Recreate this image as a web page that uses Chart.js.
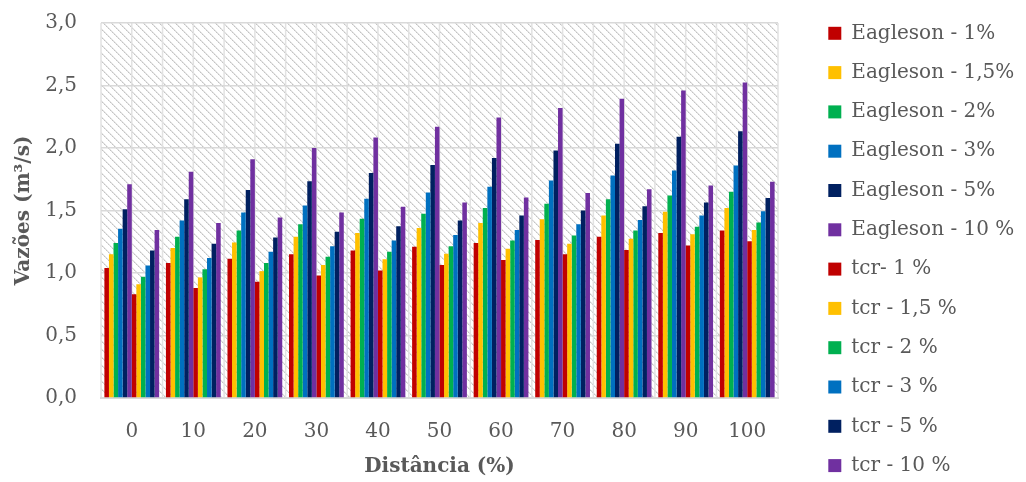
<!DOCTYPE html>
<html>
<head>
<meta charset="utf-8">
<script src="https://cdn.jsdelivr.net/npm/chart.js@4.4.1/dist/chart.umd.min.js"></script>
<style>
  body { margin: 0; background: #fff; }
  #wrap { width: 1026px; height: 482px; }
</style>
</head>
<body>
<div id="wrap"><canvas id="vazoesChart" width="1026" height="482"></canvas></div>
<script>
const distancias = ["0", "10", "20", "30", "40", "50", "60", "70", "80", "90", "100"];

const eagleson1 = [1.04, 1.08, 1.115, 1.15, 1.18, 1.21, 1.24, 1.265, 1.29, 1.32, 1.34];
const eagleson15 = [1.15, 1.20, 1.245, 1.29, 1.32, 1.36, 1.40, 1.43, 1.46, 1.49, 1.52];
const eagleson2 = [1.24, 1.29, 1.34, 1.39, 1.435, 1.475, 1.52, 1.555, 1.59, 1.62, 1.65];
const eagleson3 = [1.355, 1.42, 1.485, 1.54, 1.595, 1.645, 1.69, 1.74, 1.78, 1.82, 1.86];
const eagleson5 = [1.51, 1.59, 1.665, 1.735, 1.80, 1.865, 1.92, 1.98, 2.035, 2.09, 2.135];
const eagleson10 = [1.71, 1.81, 1.91, 2.00, 2.085, 2.17, 2.245, 2.32, 2.395, 2.46, 2.525];

const tcr1 = [0.83, 0.88, 0.93, 0.98, 1.02, 1.065, 1.105, 1.15, 1.185, 1.22, 1.255];
const tcr15 = [0.91, 0.965, 1.015, 1.065, 1.11, 1.155, 1.195, 1.235, 1.275, 1.31, 1.345];
const tcr2 = [0.97, 1.03, 1.08, 1.13, 1.17, 1.215, 1.26, 1.30, 1.34, 1.37, 1.405];
const tcr3 = [1.06, 1.12, 1.17, 1.215, 1.26, 1.305, 1.345, 1.39, 1.425, 1.46, 1.495];
const tcr5 = [1.18, 1.235, 1.285, 1.33, 1.375, 1.42, 1.46, 1.50, 1.535, 1.565, 1.60];
const tcr10 = [1.345, 1.40, 1.445, 1.485, 1.53, 1.565, 1.605, 1.64, 1.67, 1.70, 1.73];

const seriesNames = [
    "Eagleson - 1%", "Eagleson - 1,5%", "Eagleson - 2%", "Eagleson - 3%", "Eagleson - 5%", "Eagleson - 10 %",
    "tcr- 1 %", "tcr - 1,5 %", "tcr - 2 %", "tcr - 3 %", "tcr - 5 %", "tcr - 10 %"
];
const seriesValues = [eagleson1, eagleson15, eagleson2, eagleson3, eagleson5, eagleson10,
                      tcr1, tcr15, tcr2, tcr3, tcr5, tcr10];
const colors = ["#C00000", "#FFC000", "#00B050", "#0070C0", "#002060", "#7030A0"];

const serif = "'DejaVu Serif', 'Liberation Serif', serif";
const textGray = "#595959";
const lineGray = "#d9d9d9";

// diagonal hatch like the excel pattern fill
function makeHatch(ctx) {
    const tile = document.createElement("canvas");
    tile.width = 8;
    tile.height = 8;
    const t = tile.getContext("2d");
    t.fillStyle = "#ffffff";
    t.fillRect(0, 0, 8, 8);
    for (let i = 0; i < 8; i++) {
        t.fillStyle = (i % 2 === 0) ? "#c4c4c4" : "#dadada";
        t.fillRect(i, i, 1, 1);
        t.fillStyle = "#e6e6e6";
        t.fillRect((i + 1) % 8, i, 1, 1);
    }
    return ctx.createPattern(tile, "repeat");
}

const plotBackground = {
    id: "plotBackground",
    beforeDraw(chart) {
        const {ctx, chartArea} = chart;
        const xs = chart.scales.x;
        ctx.save();
        ctx.fillStyle = makeHatch(ctx);
        ctx.fillRect(chartArea.left, chartArea.top, chartArea.right - chartArea.left, chartArea.bottom - chartArea.top);
        // vertical lines every half category
        const half = (xs.getPixelForValue(1) - xs.getPixelForValue(0)) / 2;
        ctx.strokeStyle = "#e2e2e2";
        ctx.lineWidth = 1.5;
        ctx.beginPath();
        for (let i = 0; i < distancias.length; i++) {
            const c = xs.getPixelForValue(i);
            [c - half, c].forEach(x => {
                ctx.moveTo(x, chartArea.top);
                ctx.lineTo(x, chartArea.bottom);
            });
        }
        ctx.moveTo(chartArea.right, chartArea.top);
        ctx.lineTo(chartArea.right, chartArea.bottom);
        ctx.stroke();
        ctx.restore();
    }
};

// legend: one column, fixed width, nudged into place
const legendTweak = {
    id: "legendTweak",
    beforeUpdate(chart) {
        const lg = chart.legend;
        if (!lg || lg._tweaked) return;
        const fit = lg.fit;
        lg.fit = function () {
            const mh = this.maxHeight;
            this.maxHeight = mh + 60;
            fit.call(this);
            this.maxHeight = mh;
            this.height = mh;
            this.width = 248;
        };
        lg._tweaked = true;
    },
    afterLayout(chart) {
        const lg = chart.legend;
        lg.left = 809;
        lg.top += 4;
        lg.bottom += 60;
    }
};

const datasets = seriesNames.map((name, i) => ({
    label: name,
    data: seriesValues[i],
    backgroundColor: colors[i % 6],
    borderWidth: 0
}));

new Chart("vazoesChart", {
    type: "bar",
    data: {
        labels: distancias,
        datasets: datasets
    },
    options: {
        responsive: false,
        animation: false,
        devicePixelRatio: 1,
        categoryPercentage: 0.89,
        barPercentage: 1.0,
        layout: { padding: 0 },
        plugins: {
            tooltip: { enabled: false },
            legend: {
                position: "right",
                align: "start",
                labels: {
                    boxWidth: 13,
                    boxHeight: 13,
                    padding: 19.3,
                    color: textGray,
                    font: { family: serif, size: 20 }
                }
            }
        },
        scales: {
            x: {
                position: "bottom",
                grid: { display: false },
                border: { display: true, color: lineGray, width: 2 },
                ticks: {
                    color: textGray,
                    padding: 14,
                    font: { family: serif, size: 20 }
                },
                title: {
                    display: true,
                    text: "Distância (%)",
                    color: textGray,
                    padding: { top: 0, bottom: 3 },
                    font: { family: serif, size: 20, weight: "bold" }
                },
                afterFit: s => { s.height = 84; }
            },
            y: {
                position: "left",
                min: 0,
                max: 3,
                grid: { color: lineGray, lineWidth: 1.5, drawTicks: false },
                border: { display: false },
                ticks: {
                    stepSize: 0.5,
                    padding: 24,
                    color: textGray,
                    font: { family: serif, size: 20 },
                    callback: v => v.toFixed(1).replace(".", ",")
                },
                title: {
                    display: true,
                    text: "Vazões (m³/s)",
                    color: textGray,
                    padding: { top: 12, bottom: 0 },
                    font: { family: serif, size: 20, weight: "bold" }
                },
                afterFit: s => {
                    s.width = 101;
                    s.paddingTop = 0;
                    s.paddingBottom = 0;
                }
            },
            xTop: {
                type: "category",
                position: "top",
                grid: { display: false },
                border: { display: false },
                ticks: { display: false },
                afterFit: s => { s.height = 23; }
            }
        }
    },
    plugins: [plotBackground, legendTweak]
});
</script>
</body>
</html>
